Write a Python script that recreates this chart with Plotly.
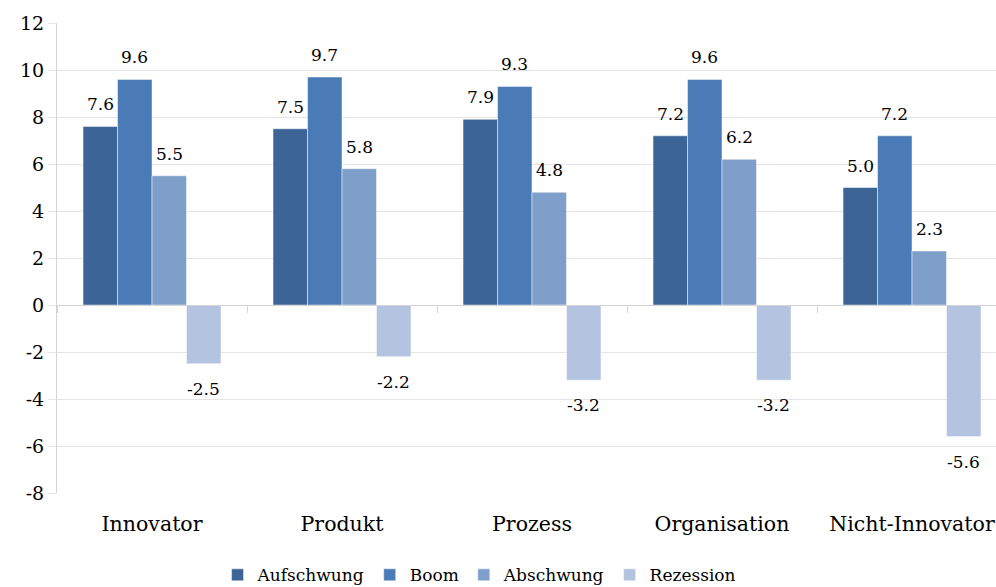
import plotly.graph_objects as go

# Categories and series values
categories = ["Innovator", "Produkt", "Prozess", "Organisation", "Nicht-Innovator"]
series_names = ["Aufschwung", "Boom", "Abschwung", "Rezession"]
aufschwung = [7.6, 7.5, 7.9, 7.2, 5.0]
boom = [9.6, 9.7, 9.3, 9.6, 7.2]
abschwung = [5.5, 5.8, 4.8, 6.2, 2.3]
rezession = [-2.5, -2.2, -3.2, -3.2, -5.6]
y_ticks = [-8, -6, -4, -2, 0, 2, 4, 6, 8, 10, 12]

series_values = [aufschwung, boom, abschwung, rezession]
colors = ["#3C6496", "#4A7BB7", "#7F9FCB", "#B4C4E0"]

FONT = "DejaVu Serif"
GRID = "#e4e4e4"
AXIS = "#d4d4d4"
BARGAP = 0.274

fig = go.Figure()

for name, vals, col in zip(series_names, series_values, colors):
    fig.add_trace(go.Bar(
        name=name, x=categories, y=vals,
        marker=dict(color=col, line=dict(color="rgba(255,255,255,0.6)", width=0.8)),
        hovertemplate="%{x}<br>" + name + ": %{y:.1f}<extra></extra>",
    ))

# invisible helper trace so the zero-line axis carries the categories
fig.add_trace(go.Scatter(
    x=categories, y=[0] * len(categories), xaxis="x2", mode="markers",
    marker=dict(opacity=0), hoverinfo="skip", showlegend=False,
))

# value labels above positive / below negative bars
n = len(series_values)
slot = (1 - BARGAP) / n
annotations = []
for i, vals in enumerate(series_values):
    off = (i - (n - 1) / 2) * slot
    for j, v in enumerate(vals):
        annotations.append(dict(
            x=j + off, y=v, xref="x", yref="y",
            text=f"{v:.1f}", showarrow=False,
            yanchor="bottom" if v >= 0 else "top",
            yshift=10 if v >= 0 else -13,
            font=dict(family=FONT, size=17, color="#000000"),
        ))

fig.update_layout(
    width=996, height=587,
    margin=dict(l=57, r=0, t=23, b=94, autoexpand=False),
    paper_bgcolor="white", plot_bgcolor="white",
    barmode="group", bargap=BARGAP, bargroupgap=0,
    font=dict(family=FONT, size=18, color="#000000"),
    annotations=annotations,
    legend=dict(
        orientation="h", x=0.45, xanchor="center", y=-0.175, yanchor="middle",
        font=dict(family=FONT, size=17, color="#000000"),
        itemwidth=30, traceorder="normal",
    ),
    xaxis=dict(
        type="category", range=[-0.5, 4.442], automargin=False,
        showgrid=False, showline=False, zeroline=False,
        ticks="", ticklabelstandoff=16,
        tickfont=dict(family=FONT, size=20.5, color="#000000"),
    ),
    xaxis2=dict(
        type="category", overlaying="x", matches="x", anchor="free", position=0.4,
        side="bottom", showticklabels=False, showgrid=False, zeroline=False,
        showline=True, linecolor=AXIS, linewidth=1, automargin=False,
        tickson="boundaries", ticks="outside", ticklen=7, tickcolor=AXIS, tickwidth=1,
    ),
    yaxis=dict(
        range=[-8, 12], tickvals=y_ticks, ticktext=[str(t) for t in y_ticks],
        automargin=False,
        showgrid=True, gridcolor=GRID, gridwidth=1, zeroline=False,
        showline=True, linecolor=AXIS, linewidth=1,
        ticks="outside", ticklen=8, tickcolor=GRID, tickwidth=1,
        tickfont=dict(family=FONT, size=19, color="#000000"),
    ),
)

fig.write_html("out.html")
